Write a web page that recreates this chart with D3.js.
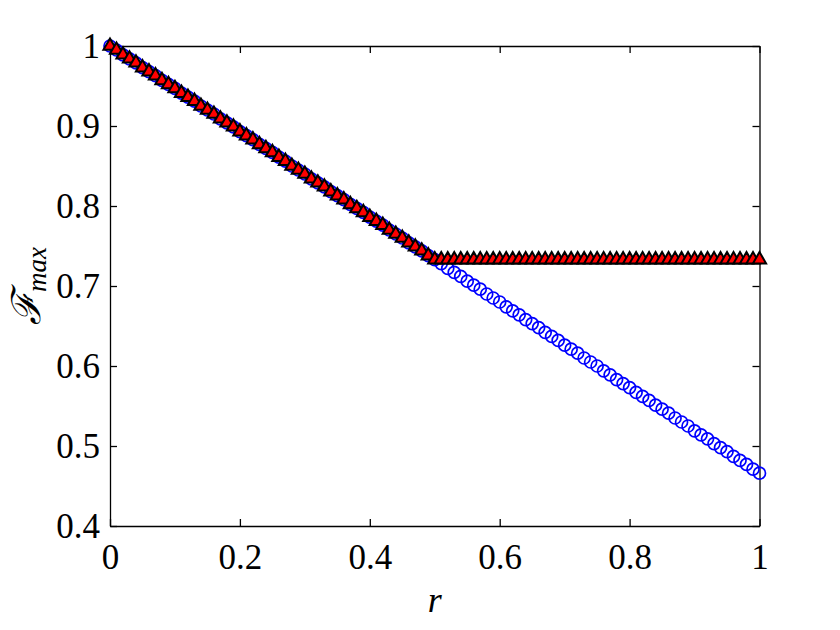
<!DOCTYPE html>
<html lang="en">
<head>
    <meta charset="UTF-8">
    <title>F max vs r</title>
    <script src="https://d3js.org/d3.v7.min.js"></script>
    <style>
        html, body {
            margin: 0;
            padding: 0;
            background: #fff;
        }
        .domain, .tick line {
            stroke: #000;
        }
    </style>
</head>
<body>
<svg width="840" height="630"></svg>
<script>
    // r grid
    const rValues = [
        0.00, 0.01, 0.02, 0.03, 0.04, 0.05, 0.06, 0.07, 0.08, 0.09,
        0.10, 0.11, 0.12, 0.13, 0.14, 0.15, 0.16, 0.17, 0.18, 0.19,
        0.20, 0.21, 0.22, 0.23, 0.24, 0.25, 0.26, 0.27, 0.28, 0.29,
        0.30, 0.31, 0.32, 0.33, 0.34, 0.35, 0.36, 0.37, 0.38, 0.39,
        0.40, 0.41, 0.42, 0.43, 0.44, 0.45, 0.46, 0.47, 0.48, 0.49,
        0.50, 0.51, 0.52, 0.53, 0.54, 0.55, 0.56, 0.57, 0.58, 0.59,
        0.60, 0.61, 0.62, 0.63, 0.64, 0.65, 0.66, 0.67, 0.68, 0.69,
        0.70, 0.71, 0.72, 0.73, 0.74, 0.75, 0.76, 0.77, 0.78, 0.79,
        0.80, 0.81, 0.82, 0.83, 0.84, 0.85, 0.86, 0.87, 0.88, 0.89,
        0.90, 0.91, 0.92, 0.93, 0.94, 0.95, 0.96, 0.97, 0.98, 0.99,
        1.00
    ];

    // blue circles
    const fCircle = [
        1.000, 0.995, 0.989, 0.984, 0.979, 0.973, 0.968, 0.963, 0.957, 0.952,
        0.947, 0.941, 0.936, 0.931, 0.925, 0.920, 0.915, 0.909, 0.904, 0.899,
        0.893, 0.888, 0.883, 0.877, 0.872, 0.867, 0.861, 0.856, 0.850, 0.845,
        0.840, 0.834, 0.829, 0.824, 0.818, 0.813, 0.808, 0.802, 0.797, 0.792,
        0.786, 0.781, 0.776, 0.770, 0.765, 0.760, 0.754, 0.749, 0.744, 0.738,
        0.733, 0.728, 0.722, 0.717, 0.712, 0.706, 0.701, 0.696, 0.690, 0.685,
        0.680, 0.674, 0.669, 0.664, 0.658, 0.653, 0.648, 0.642, 0.637, 0.632,
        0.626, 0.621, 0.616, 0.610, 0.605, 0.600, 0.594, 0.589, 0.583, 0.578,
        0.573, 0.567, 0.562, 0.557, 0.551, 0.546, 0.541, 0.535, 0.530, 0.525,
        0.519, 0.514, 0.509, 0.503, 0.498, 0.493, 0.487, 0.482, 0.477, 0.471,
        0.466
    ];

    // red triangles
    const fTriangle = [
        1.000, 0.995, 0.989, 0.984, 0.979, 0.973, 0.968, 0.963, 0.957, 0.952,
        0.947, 0.941, 0.936, 0.931, 0.925, 0.920, 0.915, 0.909, 0.904, 0.899,
        0.893, 0.888, 0.883, 0.877, 0.872, 0.867, 0.861, 0.856, 0.850, 0.845,
        0.840, 0.834, 0.829, 0.824, 0.818, 0.813, 0.808, 0.802, 0.797, 0.792,
        0.786, 0.781, 0.776, 0.770, 0.765, 0.760, 0.754, 0.749, 0.744, 0.738,
        0.733, 0.733, 0.733, 0.733, 0.733, 0.733, 0.733, 0.733, 0.733, 0.733,
        0.733, 0.733, 0.733, 0.733, 0.733, 0.733, 0.733, 0.733, 0.733, 0.733,
        0.733, 0.733, 0.733, 0.733, 0.733, 0.733, 0.733, 0.733, 0.733, 0.733,
        0.733, 0.733, 0.733, 0.733, 0.733, 0.733, 0.733, 0.733, 0.733, 0.733,
        0.733, 0.733, 0.733, 0.733, 0.733, 0.733, 0.733, 0.733, 0.733, 0.733,
        0.733
    ];

    const xTicks = [0, 0.2, 0.4, 0.6, 0.8, 1];
    const yTicks = [0.4, 0.5, 0.6, 0.7, 0.8, 0.9, 1];

    const svg = d3.select("svg");
    const mLeft = 110, mRight = 759.5, mTop = 46, mBottom = 526;
    const serif = "'Liberation Serif', 'Times New Roman', serif";

    const x = d3.scaleLinear().domain([0, 1]).range([mLeft, mRight]);
    const y = d3.scaleLinear().domain([0.4, 1]).range([mBottom, mTop]);

    const fmt = d => d === 0 || d === 1 ? String(d) : d.toFixed(1);

    // axes, ticks inside
    svg.append("g")
        .attr("transform", `translate(0,${mBottom})`)
        .call(d3.axisBottom(x).tickValues(xTicks).tickSizeInner(-7).tickSizeOuter(0).tickPadding(18).tickFormat(fmt));

    svg.append("g")
        .attr("transform", `translate(0,${mTop})`)
        .call(d3.axisTop(x).tickValues(xTicks).tickSizeInner(-7).tickSizeOuter(0).tickFormat(""));

    svg.append("g")
        .attr("transform", `translate(${mLeft},0)`)
        .call(d3.axisLeft(y).tickValues(yTicks).tickSizeInner(-7).tickSizeOuter(0).tickPadding(10).tickFormat(fmt));

    svg.append("g")
        .attr("transform", `translate(${mRight},0)`)
        .call(d3.axisRight(y).tickValues(yTicks).tickSizeInner(-7).tickSizeOuter(0).tickFormat(""));

    svg.selectAll(".domain, .tick line").attr("stroke-width", 1.3);
    svg.selectAll(".tick text")
        .attr("font-family", serif)
        .attr("font-size", 35)
        .attr("fill", "#000");

    // blue circles
    svg.append("g")
        .selectAll("circle")
        .data(rValues)
        .join("circle")
        .attr("cx", d => x(d))
        .attr("cy", (d, i) => y(fCircle[i]))
        .attr("r", 6)
        .attr("fill", "none")
        .attr("stroke", "#0000ff")
        .attr("stroke-width", 1.7);

    // red triangles with black edge
    const tri = d3.symbol().type(d3.symbolTriangle).size(75);
    svg.append("g")
        .selectAll("path")
        .data(rValues)
        .join("path")
        .attr("d", tri)
        .attr("transform", (d, i) => `translate(${x(d)},${y(fTriangle[i])})`)
        .attr("fill", "#ff0000")
        .attr("stroke", "#000")
        .attr("stroke-width", 2);

    // axis labels
    svg.append("text")
        .attr("x", (mLeft + mRight) / 2)
        .attr("y", 612)
        .attr("text-anchor", "middle")
        .attr("font-family", serif)
        .attr("font-size", 36)
        .attr("font-style", "italic")
        .text("r");

    const yl = svg.append("text")
        .attr("transform", `translate(40,${(mTop + mBottom) / 2}) rotate(-90)`)
        .attr("text-anchor", "middle")
        .attr("font-family", serif);
    yl.append("tspan")
        .attr("font-size", 40)
        .attr("font-family", "'DejaVu Serif', 'Liberation Serif', serif")
        .attr("font-style", "italic")
        .text("\u2131");
    yl.append("tspan")
        .attr("font-size", 27)
        .attr("font-style", "italic")
        .attr("dy", 6)
        .text("max");
</script>
</body>
</html>
